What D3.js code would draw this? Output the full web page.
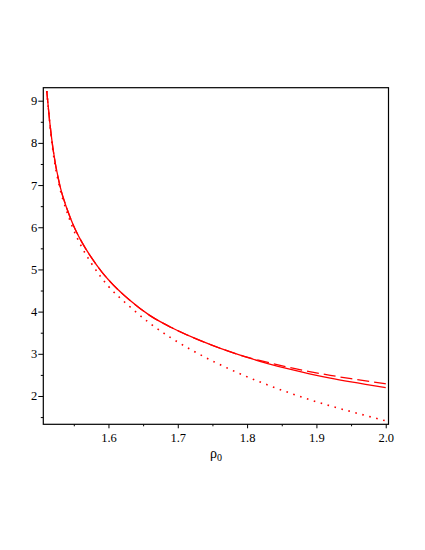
<!DOCTYPE html>
<html>
<head>
<meta charset="utf-8">
<script src="https://cdn.jsdelivr.net/npm/d3@7"></script>
<style>
  html, body { margin: 0; padding: 0; background: #fff; }
  svg { display: block; }
  text { font-family: "Liberation Serif", "Times New Roman", serif; fill: #000; }
</style>
</head>
<body>
<script>
// ---- data ----
const rho        = [1.511, 1.515, 1.52, 1.53, 1.54, 1.55, 1.56, 1.575, 1.59, 1.6, 1.63, 1.66, 1.69, 1.72, 1.75, 1.775, 1.8, 1.83, 1.86, 1.89, 1.92, 1.95, 2.0];
const solidVals  = [9.23, 8.54, 7.86, 6.98, 6.445, 6.025, 5.695, 5.29, 4.95, 4.755, 4.28, 3.905, 3.63, 3.40, 3.20, 3.05, 2.914, 2.77, 2.641, 2.527, 2.425, 2.335, 2.20];
const dashedVals = [9.23, 8.54, 7.86, 6.98, 6.445, 6.025, 5.695, 5.29, 4.95, 4.755, 4.28, 3.905, 3.63, 3.40, 3.20, 3.05, 2.92, 2.795, 2.68, 2.58, 2.49, 2.41, 2.29];
const dottedVals = [9.23, 8.52, 7.80, 6.92, 6.37, 5.925, 5.575, 5.155, 4.80, 4.60, 4.13, 3.72, 3.38, 3.09, 2.83, 2.635, 2.455, 2.26, 2.08, 1.915, 1.765, 1.63, 1.41];
const xTicks = [1.6, 1.7, 1.8, 1.9, 2.0];
const xMinor = [1.55, 1.65, 1.75, 1.85, 1.95];
const yTicks = [2, 3, 4, 5, 6, 7, 8, 9];
const yMinor = [1.5, 2.5, 3.5, 4.5, 5.5, 6.5, 7.5, 8.5];
const xDomain = [1.506, 2.004];
const yDomain = [1.329, 9.308];

const W = 425, H = 550;
const box = { left: 43.3, right: 388.5, top: 87.7, bottom: 424.3 };

const svg = d3.select("body").append("svg").attr("width", W).attr("height", H);

const x = d3.scaleLinear().domain(xDomain).range([box.left, box.right]);
const y = d3.scaleLinear().domain(yDomain).range([box.bottom, box.top]);

// axes
const xAxis = d3.axisBottom(x).tickValues(xTicks).tickSize(4).tickSizeOuter(0).tickFormat(d3.format(".1f"));
const xAxisMinor = d3.axisBottom(x).tickValues(xMinor).tickSize(2).tickSizeOuter(0).tickFormat("");
const yAxis = d3.axisLeft(y).tickValues(yTicks).tickSize(5).tickSizeOuter(0).tickFormat(d3.format("d"));
const yAxisMinor = d3.axisLeft(y).tickValues(yMinor).tickSize(2.5).tickSizeOuter(0).tickFormat("");

function styleAxis(g) {
  g.attr("font-family", null);
  g.select(".domain").remove();
  g.selectAll("line").attr("stroke", "#000").attr("stroke-width", 1);
  g.selectAll("text").attr("font-size", 12.5).attr("fill", "#000");
}

svg.append("g").attr("transform", `translate(0,${box.bottom})`).call(xAxis).call(styleAxis)
  .selectAll("text").attr("dy", "0.75em").attr("y", 8);
svg.append("g").attr("transform", `translate(0,${box.bottom})`).call(xAxisMinor).call(styleAxis);
svg.append("g").attr("transform", `translate(${box.left},0)`).call(yAxis).call(styleAxis)
  .selectAll("text").attr("x", -6);
svg.append("g").attr("transform", `translate(${box.left},0)`).call(yAxisMinor).call(styleAxis);

// curves
svg.append("clipPath").attr("id", "clip").append("rect")
  .attr("x", box.left).attr("y", box.top).attr("width", box.right - box.left).attr("height", box.bottom - box.top);

const line = d3.line().x(d => x(d[0])).y(d => y(d[1])).curve(d3.curveMonotoneX);
const series = [
  { vals: dottedVals, dash: "1.6,5.6", w: 1.6 },
  { vals: dashedVals, dash: "12,5", w: 1.3 },
  { vals: solidVals, dash: null, w: 1.3 }
];
const gCurves = svg.append("g").attr("clip-path", "url(#clip)");
series.forEach(s => {
  const p = gCurves.append("path")
    .datum(rho.map((r, i) => [r, s.vals[i]]))
    .attr("d", line)
    .attr("fill", "none")
    .attr("stroke", "#ff0000")
    .attr("stroke-width", s.w);
  if (s.dash) p.attr("stroke-dasharray", s.dash);
});

// frame
svg.append("rect")
  .attr("x", box.left).attr("y", box.top)
  .attr("width", box.right - box.left).attr("height", box.bottom - box.top)
  .attr("fill", "none").attr("stroke", "#000").attr("stroke-width", 1.2);

// x label
const lab = svg.append("text")
  .attr("x", (box.left + box.right) / 2)
  .attr("y", 458)
  .attr("text-anchor", "middle")
  .attr("font-size", 14);
lab.append("tspan").text("ρ");
lab.append("tspan").attr("font-size", 10).attr("dy", 3).text("0");
</script>
</body>
</html>
